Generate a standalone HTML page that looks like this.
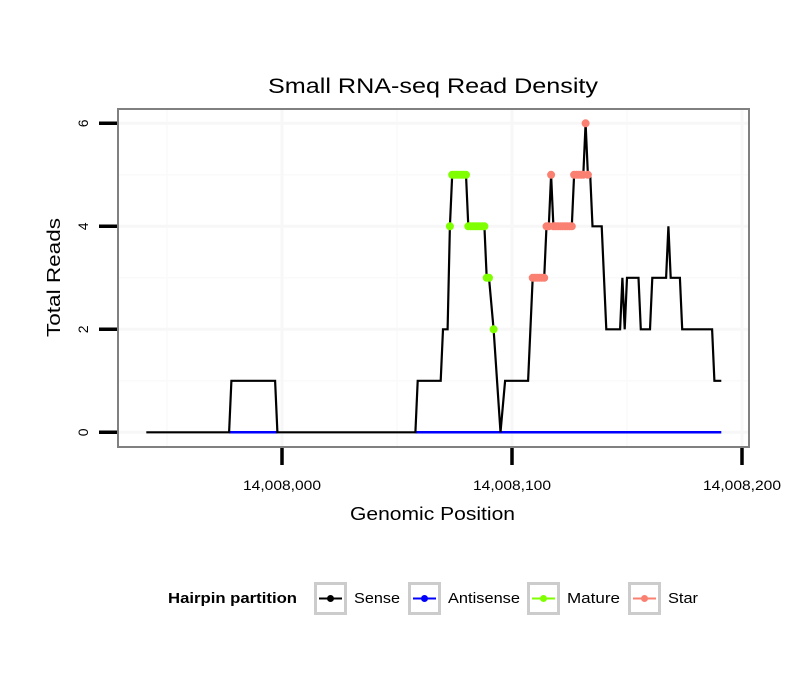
<!DOCTYPE html>
<html><head><meta charset="utf-8">
<style>
body{margin:0;background:#fff;font-family:"Liberation Sans",sans-serif;}
svg text{font-family:"Liberation Sans",sans-serif;}
</style></head>
<body>
<svg id="chart" width="810" height="690" xmlns="http://www.w3.org/2000/svg">
<rect width="810" height="690" fill="#fff"/>
<text x="268" y="93" font-size="21" textLength="330" lengthAdjust="spacingAndGlyphs">Small RNA-seq Read Density</text>
<g id="grid"></g>
<g id="marks"></g>
<rect x="118" y="109" width="631" height="338" fill="none" stroke="#808080" stroke-width="2"/>
<g id="axes"></g>
<text x="350" y="520" font-size="18" textLength="165" lengthAdjust="spacingAndGlyphs">Genomic Position</text>
<text transform="translate(60,337) rotate(-90)" font-size="18" textLength="119" lengthAdjust="spacingAndGlyphs">Total Reads</text>
<g>
<text x="168" y="603" font-size="15" font-weight="bold" textLength="129" lengthAdjust="spacingAndGlyphs">Hairpin partition</text>
<g>
<rect x="315.5" y="583.5" width="30" height="30" fill="#fff" stroke="#ccc" stroke-width="3"/>
<line x1="319" y1="598.5" x2="342" y2="598.5" stroke="#000" stroke-width="2"/><circle cx="330.5" cy="598.5" r="3.5" fill="#000"/>
<text x="354" y="603" font-size="15" textLength="46" lengthAdjust="spacingAndGlyphs">Sense</text></g>
<g>
<rect x="409.5" y="583.5" width="30" height="30" fill="#fff" stroke="#ccc" stroke-width="3"/>
<line x1="413" y1="598.5" x2="436" y2="598.5" stroke="#0000ff" stroke-width="2"/><circle cx="424.5" cy="598.5" r="3.5" fill="#0000ff"/>
<text x="448" y="603" font-size="15" textLength="72" lengthAdjust="spacingAndGlyphs">Antisense</text></g>
<g>
<rect x="528.5" y="583.5" width="30" height="30" fill="#fff" stroke="#ccc" stroke-width="3"/>
<line x1="532" y1="598.5" x2="555" y2="598.5" stroke="#7fff00" stroke-width="2"/><circle cx="543.5" cy="598.5" r="3.5" fill="#7fff00"/>
<text x="567" y="603" font-size="15" textLength="53" lengthAdjust="spacingAndGlyphs">Mature</text></g>
<g>
<rect x="629.5" y="583.5" width="30" height="30" fill="#fff" stroke="#ccc" stroke-width="3"/>
<line x1="633" y1="598.5" x2="656" y2="598.5" stroke="#fa8072" stroke-width="2"/><circle cx="644.5" cy="598.5" r="3.5" fill="#fa8072"/>
<text x="668" y="603" font-size="15" textLength="30" lengthAdjust="spacingAndGlyphs">Star</text></g>
</g>
</svg>
<script>
// data (positions as offset from 14,008,000)
const senseX = [-59,-23,-22,-3,-2,58,59,69,70,72,73,74,80,81,88,89,90,92,95,97,107,109,114,115,116,117,118,126,127,131,132,133,134,135,139,141,147,148,149,150,155,156,160,161,167,168,169,173,174,187,188,191];
const senseY = [0,0,1,1,0,0,1,1,2,2,4,5,5,4,4,3,3,2,0,1,1,3,3,4,4,5,4,4,5,5,6,5,5,4,4,2,2,3,2,3,3,2,2,3,3,4,3,3,2,2,1,1];
const antisenseX = [-23,-2,58,191];
const antisenseY = [0,0,0,0];
const matureX = [73,74,75,76,77,78,79,80,81,82,83,84,85,86,87,88,89,90,92];
const matureY = [4,5,5,5,5,5,5,5,4,4,4,4,4,4,4,4,3,3,2];
const starX = [109,110,111,112,113,114,115,116,117,118,119,120,121,122,123,124,125,126,127,128,129,130,131,132,133];
const starY = [3,3,3,3,3,3,4,4,5,4,4,4,4,4,4,4,4,4,5,5,5,5,5,6,5];
const xTicks = [0,100,200];
const xTickLabels = ["14,008,000","14,008,100","14,008,200"];
const xMinor = [-50,50,150];
const yTicks = [0,2,4,6];
const yMinor = [1,3,5];

const NS="http://www.w3.org/2000/svg";
const X = p => 282 + p*2.3;
const Y = v => 432.3 - v*51.5;
function mk(tag, parent, attrs){const e=document.createElementNS(NS,tag);for(const k in attrs)e.setAttribute(k,attrs[k]);parent.appendChild(e);return e;}
const grid=document.getElementById('grid'), marks=document.getElementById('marks'), axes=document.getElementById('axes');
mk('rect',grid,{x:118,y:109,width:631,height:338,fill:'#fff'});
yMinor.forEach(v=>{const l=mk('line',grid,{x1:119,x2:748,y1:Y(v),y2:Y(v),stroke:'#fafafa','stroke-width':1.5});

});
xMinor.forEach(v=>{const l=mk('line',grid,{x1:X(v),x2:X(v),y1:110,y2:446,stroke:'#fafafa','stroke-width':1.5});

});
yTicks.forEach(v=>{const l=mk('line',grid,{x1:119,x2:748,y1:Y(v),y2:Y(v),stroke:'#f7f7f7','stroke-width':3});

});
xTicks.forEach(v=>{const l=mk('line',grid,{x1:X(v),x2:X(v),y1:110,y2:446,stroke:'#f7f7f7','stroke-width':3});

});
for(let i=0;i<antisenseX.length;i+=2){
 const l=mk('line',marks,{x1:X(antisenseX[i]),x2:X(antisenseX[i+1]),y1:Y(antisenseY[i]),y2:Y(antisenseY[i+1]),stroke:'#0000ff','stroke-width':2.5});
 
 
}
const sp=mk('polyline',marks,{points:senseX.map((x,i)=>X(x)+','+Y(senseY[i])).join(' '),fill:'none',stroke:'#000','stroke-width':2.2,'stroke-linejoin':'miter'});


matureX.forEach((x,i)=>{const c=mk('circle',marks,{cx:X(x),cy:Y(matureY[i]),r:4,fill:'#7fff00'});

});
starX.forEach((x,i)=>{const c=mk('circle',marks,{cx:X(x),cy:Y(starY[i]),r:4,fill:'#fa8072'});

});
yTicks.forEach(v=>{
 const t=mk('line',axes,{x1:99,x2:117,y1:Y(v),y2:Y(v),stroke:'#000','stroke-width':3.5});
 
 
 const tx=mk('text',axes,{transform:`translate(${88},${Y(v)}) rotate(-90)`,'font-size':14,'text-anchor':'middle'});
 tx.textContent=String(v);
 
 
});
xTicks.forEach((v,i)=>{
 const t=mk('line',axes,{x1:X(v),x2:X(v),y1:448,y2:465,stroke:'#000','stroke-width':3.5});
 
 
 const tx=mk('text',axes,{x:X(v)-39,y:490,'font-size':14,textLength:78,lengthAdjust:'spacingAndGlyphs'});
 tx.textContent=xTickLabels[i];
 
 
});
</script>
</body></html>
